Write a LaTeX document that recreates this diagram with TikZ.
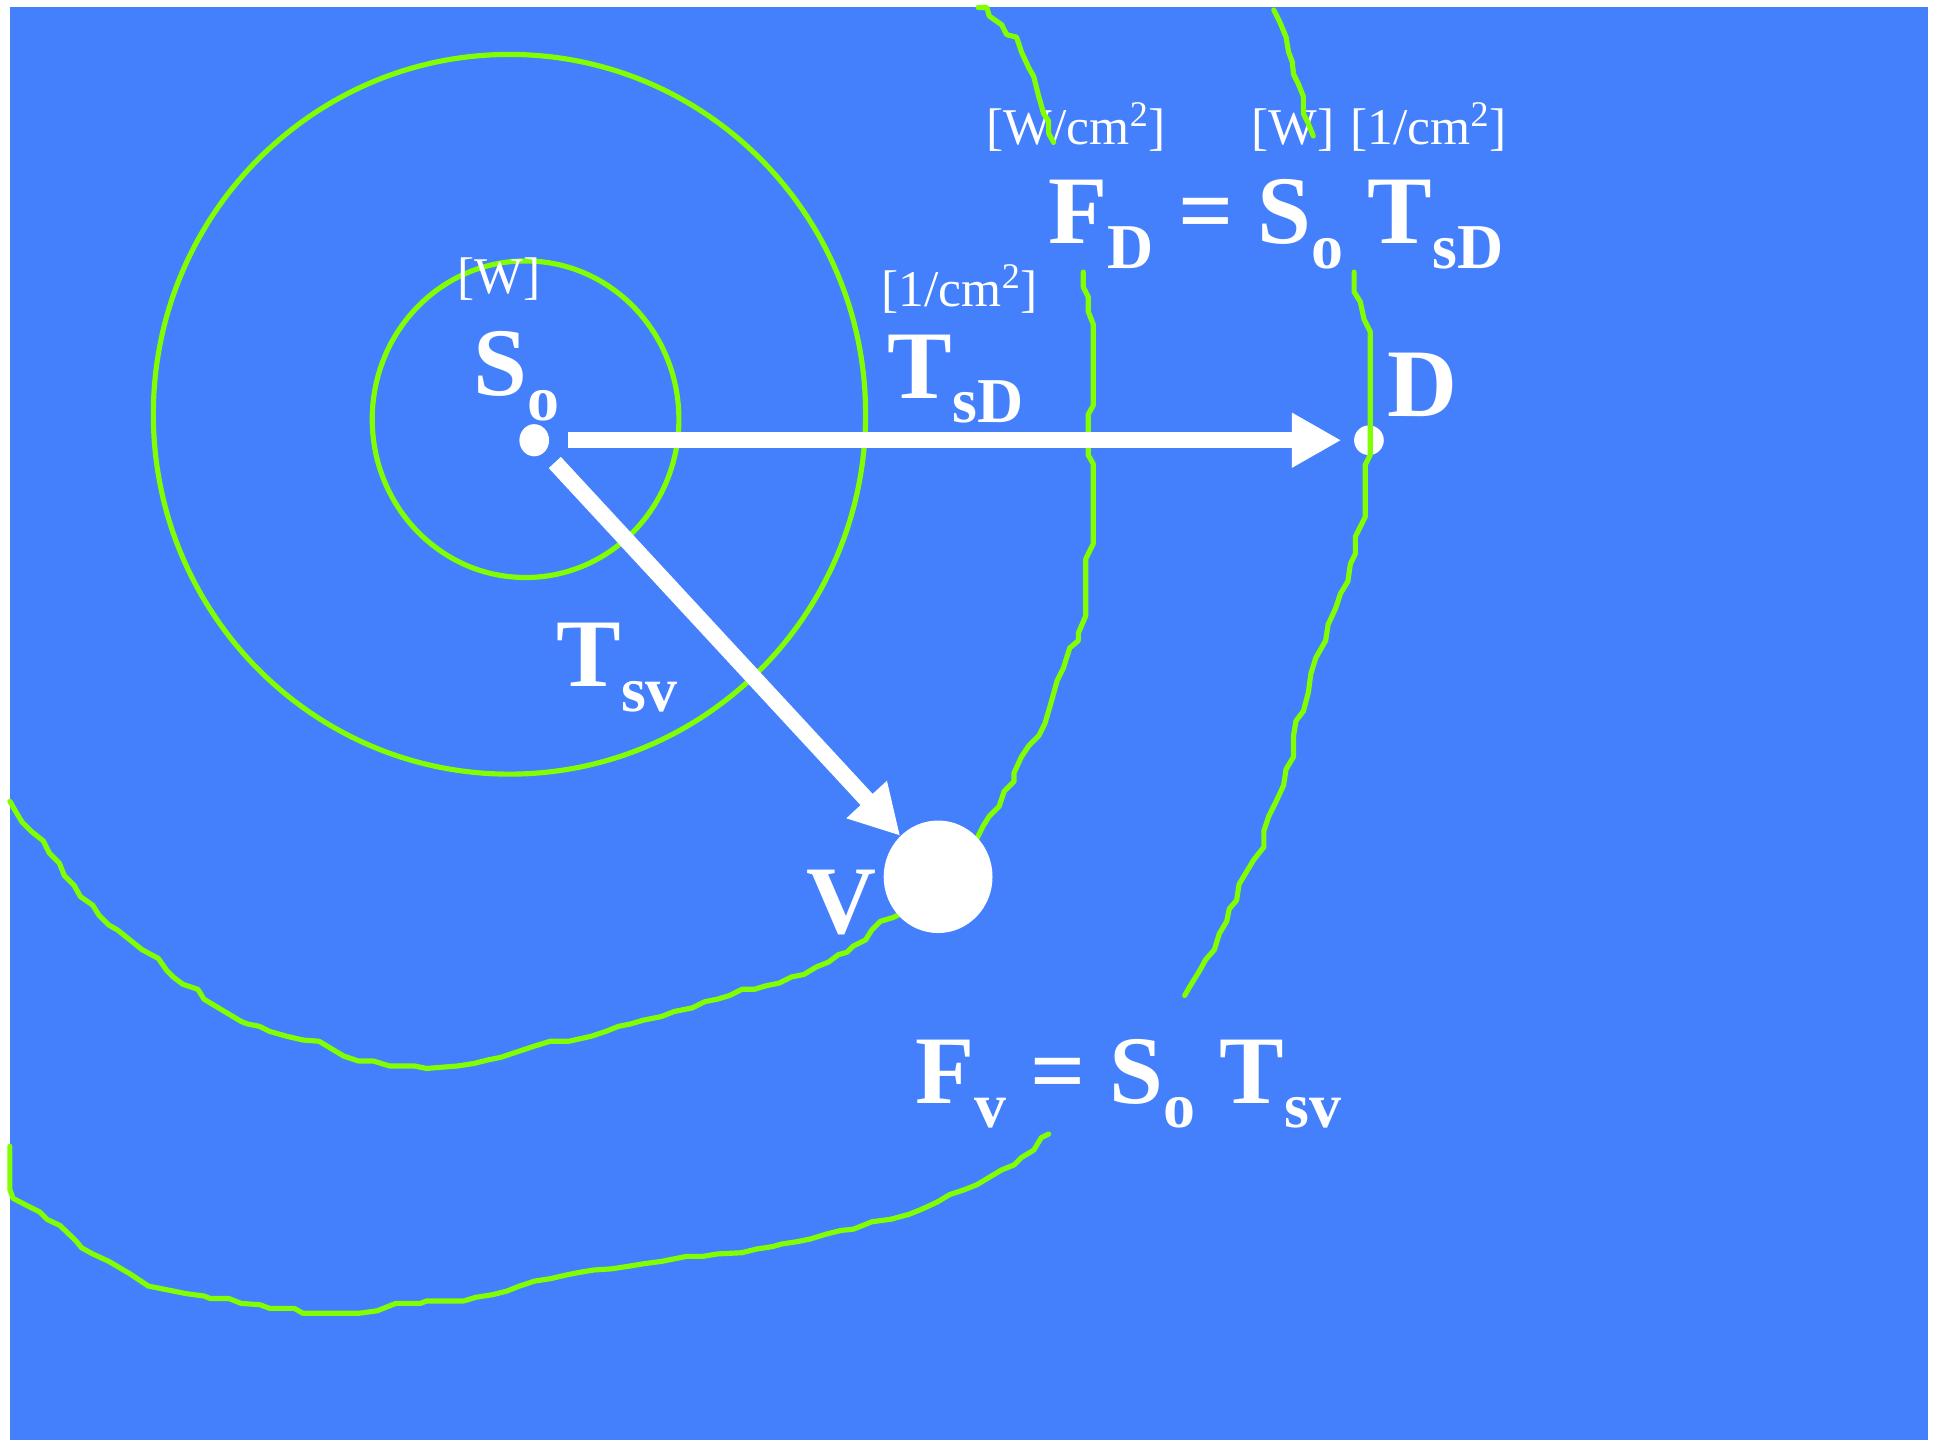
\documentclass[tikz,border=0pt]{standalone}
\usepackage{fontspec}
\setmainfont{Liberation Serif}
\usetikzlibrary{arrows.meta,shapes.geometric}
\definecolor{bgblue}{RGB}{68,128,252}
\definecolor{cgreen}{RGB}{128,255,0}
\newcommand\mainsz{\fontsize{47}{47}\selectfont\bfseries}
\newcommand\subx[1]{\raisebox{-12pt}{\fontsize{31}{31}\selectfont\bfseries #1}}
\newcommand\unitsz{\fontsize{25}{25}\selectfont\mdseries}
\tikzset{
  contour/.style={draw=cgreen,line width=2.5pt,line join=round,line cap=round},
  ring/.style={draw=cgreen,line width=2.5pt},
  arr/.style={draw=white,line width=8pt,-{Triangle[length=24pt,width=25pt]}},
  dotnode/.style={ellipse,fill=white,inner sep=0pt},
  lbl/.style={text=white,anchor=base west,inner sep=0pt,outer sep=0pt},
}
\begin{document}
\begin{tikzpicture}[x=0.6pt,y=-0.6pt]
\useasboundingbox (0,0) rectangle (1568,1164.5);
\fill[bgblue] (8.1,5.7) rectangle (1559.3,1164.5);
% rings
\draw[ring] (412,335) ellipse [x radius=288,y radius=291];
\draw[ring] (425,339) ellipse [x radius=124,y radius=128];
% dots
\node[dotnode,minimum width=14.4pt,minimum height=15.6pt] (sodot) at (432,356) {};
\node[dotnode,minimum width=14.4pt,minimum height=14.4pt] (ddot) at (1107,356) {};
% labels
\node[lbl] (unitW) at (370,237) {\unitsz [W]};
\node[lbl] (So) at (383,320) {\mainsz S\subx{o}};
\node[lbl] (unitT1) at (713,248) {\unitsz [1/cm\textsuperscript{2}]};
\node[lbl] (TsD) at (718,322) {\mainsz T\subx{sD}};
\node[lbl] (Dl) at (1122,337) {\mainsz D};
\node[lbl] (Tsv) at (450,555) {\mainsz T\subx{sv}};
\node[lbl] (Vl) at (652,755) {\mainsz V};
\node[lbl] (uF) at (798,117) {\unitsz [W/cm\textsuperscript{2}]};
\node[lbl] (uS) at (1012,117) {\unitsz [W]};
\node[lbl] (uT) at (1092,117) {\unitsz [1/cm\textsuperscript{2}]};
\node[lbl] (eqD) at (848,197) {\mainsz F\subx{D} = S\subx{o} T\subx{sD}};
\node[lbl] (eqV) at (740,892) {\mainsz F\subx{v} = S\subx{o} T\subx{sv}};
% contours
\draw[contour] (791,6) -- (798,6) -- (800,13) -- (810,20) -- (814,28) -- (822,30) -- (826,42) -- (832,55) -- (836,62) -- (840,78) -- (844,92) -- (848,98) -- (848,108) -- (852,115);
\draw[contour] (876,220) -- (876,232) -- (880,240) -- (880,252) -- (884,262) -- (884,328) -- (880,335) -- (880,368) -- (884,375) -- (884,440) -- (878,452) -- (878,498) -- (872,512) -- (872,518) -- (865,524) -- (860,540) -- (855,550) -- (850,568) -- (845,585) -- (840,595) -- (832,603) -- (826,612) -- (820,625) -- (820,632) -- (812,640) -- (808,652) -- (800,660) -- (795,668) -- (790,678) -- (760,705) -- (730,738) -- (722,742) -- (712,745) -- (705,752) -- (700,760) -- (690,765) -- (685,770) -- (678,772) -- (670,778) -- (660,782) -- (650,788) -- (640,790) -- (630,795) -- (620,797) -- (610,800) -- (600,800) -- (590,805) -- (580,808) -- (570,810) -- (560,815) -- (545,818) -- (535,822) -- (520,825) -- (510,828) -- (500,830) -- (490,834) -- (478,838) -- (460,842) -- (445,842) -- (432,846) -- (420,850) -- (405,855) -- (395,857) -- (383,860) -- (370,862) -- (345,864) -- (335,862) -- (315,862) -- (302,858) -- (290,858) -- (278,854) -- (268,848) -- (258,842) -- (245,841) -- (232,838) -- (218,834) -- (210,830) -- (200,828) -- (195,826) -- (185,820) -- (165,808) -- (160,800) -- (148,796) -- (140,790) -- (135,785) -- (128,775) -- (115,768) -- (105,760) -- (95,752) -- (88,748) -- (80,740) -- (75,732) -- (65,725) -- (60,716) -- (52,708) -- (48,698) -- (40,690) -- (35,680) -- (25,672) -- (18,665) -- (12,655) -- (8,648);
\draw[contour] (1030,8) -- (1035,18) -- (1040,30) -- (1042,42) -- (1045,50) -- (1046,60) -- (1050,68) -- (1054,78) -- (1054,92) -- (1058,100) -- (1062,110);
\draw[contour] (1095,220) -- (1095,236) -- (1100,244) -- (1103,258) -- (1108,268) -- (1108,368) -- (1104,376) -- (1104,418) -- (1096,434) -- (1096,448) -- (1092,456) -- (1090,470) -- (1084,480) -- (1080,492) -- (1074,505) -- (1072,518) -- (1064,532) -- (1060,545) -- (1058,560) -- (1054,575) -- (1048,583) -- (1046,595) -- (1046,612) -- (1040,622) -- (1038,635) -- (1032,648) -- (1026,660) -- (1022,672) -- (1022,685) -- (1014,695) -- (1008,705) -- (1002,715) -- (1000,728) -- (994,735) -- (992,745) -- (986,755) -- (982,768) -- (975,776) -- (970,785) -- (962,798) -- (958,805);
\draw[contour] (848,917) -- (842,920) -- (836,930) -- (826,936) -- (820,942) -- (810,946) -- (800,952) -- (790,958) -- (780,962) -- (768,966) -- (758,972) -- (745,978) -- (735,982) -- (720,986) -- (705,988) -- (690,994) -- (680,995) -- (668,998) -- (655,1002) -- (645,1004) -- (632,1006) -- (625,1008) -- (612,1010) -- (600,1013) -- (580,1014) -- (568,1016) -- (555,1016) -- (545,1018) -- (535,1020) -- (520,1022) -- (508,1024) -- (495,1026) -- (480,1027) -- (468,1029) -- (458,1031) -- (445,1034) -- (432,1036) -- (420,1040) -- (410,1044) -- (398,1047) -- (385,1049) -- (375,1052) -- (345,1052) -- (340,1054) -- (320,1054) -- (305,1060) -- (290,1062) -- (245,1062) -- (238,1058) -- (218,1058) -- (210,1055) -- (195,1054) -- (185,1050) -- (170,1050) -- (165,1048) -- (150,1046) -- (130,1042) -- (120,1040) -- (105,1030) -- (88,1020) -- (75,1014) -- (66,1009) -- (61,1003) -- (48.5,991) -- (38,986) -- (32,980) -- (24,976) -- (10.5,969) -- (8,962) -- (8,927);
% V target
\node[dotnode,minimum width=52.8pt,minimum height=54.6pt] (V) at (758.6,709) {};
% arrows
\draw[arr,shorten <=9pt,shorten >=6pt] (sodot) -- (ddot);
\draw[arr,shorten <=7pt] (sodot) -- (V);
\end{tikzpicture}
\end{document}
